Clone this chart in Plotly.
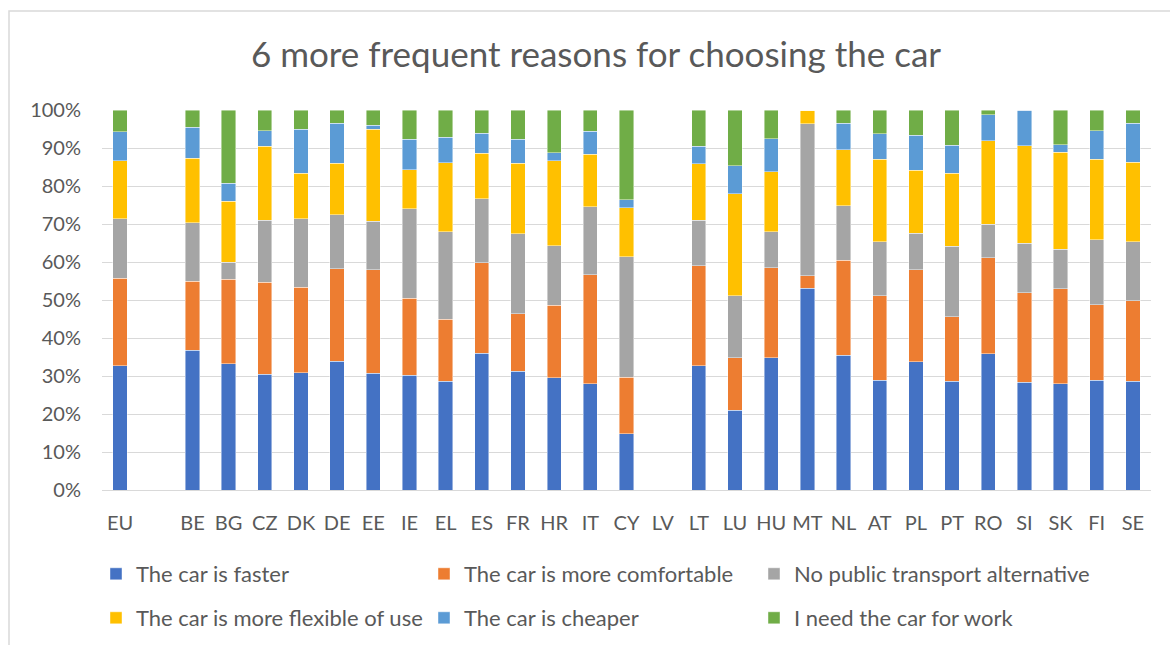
import plotly.graph_objects as go

# Country codes; " " is an empty spacer column after the EU average
countries = ["EU", " ", "BE", "BG", "CZ", "DK", "DE", "EE", "IE", "EL", "ES", "FR",
             "HR", "IT", "CY", "LV", "LT", "LU", "HU", "MT", "NL", "AT", "PL", "PT",
             "RO", "SI", "SK", "FI", "SE"]

# Share of respondents (%) per reason, in the order of `countries`
faster = [32.7, None, 36.8, 33.2, 30.5, 30.8, 33.9, 30.7, 30.2, 28.6, 36.0, 31.3,
          29.5, 27.9, 14.8, None, 32.7, 21.0, 34.8, 53.1, 35.5, 28.9, 33.7, 28.6,
          35.8, 28.4, 27.9, 28.9, 28.6]
comfortable = [23.0, None, 18.2, 22.2, 24.2, 22.5, 24.3, 27.2, 20.3, 16.3, 23.8, 15.1,
               19.1, 28.8, 14.9, None, 26.3, 13.8, 23.7, 3.3, 25.0, 22.2, 24.2, 17.0,
               25.3, 23.5, 25.0, 19.9, 21.2]
no_public = [15.7, None, 15.3, 4.6, 16.3, 18.1, 14.2, 12.8, 23.5, 23.0, 16.9, 21.1,
             15.7, 17.8, 31.7, None, 12.0, 16.3, 9.4, 40.0, 14.3, 14.2, 9.7, 18.6,
             8.9, 13.1, 10.5, 17.1, 15.5]
flexible = [15.2, None, 17.0, 16.0, 19.5, 11.9, 13.6, 24.3, 10.3, 18.2, 11.9, 18.5,
            22.3, 13.9, 12.9, None, 14.8, 26.8, 15.8, 3.6, 14.8, 21.8, 16.6, 19.1,
            21.9, 25.6, 25.5, 21.2, 21.0]
cheaper = [7.7, None, 8.1, 4.7, 4.1, 11.6, 10.5, 1.0, 8.0, 6.7, 5.3, 6.3,
           2.2, 6.0, 2.1, None, 4.7, 7.4, 8.8, 0.0, 6.9, 6.7, 9.1, 7.4,
           6.8, 9.4, 2.0, 7.4, 10.2]
for_work = [5.7, None, 4.6, 19.3, 5.4, 5.1, 3.5, 4.0, 7.7, 7.2, 6.1, 7.7,
            11.2, 5.6, 23.6, None, 9.5, 14.7, 7.5, 0.0, 3.5, 6.2, 6.7, 9.3,
            1.3, 0.0, 9.1, 5.5, 3.5]

series_names = ["The car is faster", "The car is more comfortable",
                "No public transport alternative", "The car is more flexible of use",
                "The car is cheaper", "I need the car for work"]
series_values = [faster, comfortable, no_public, flexible, cheaper, for_work]
series_colors = ["#4472C4", "#ED7D31", "#A5A5A5", "#FFC000", "#5B9BD5", "#70AD47"]

FONT = "Lato, 'Open Sans', sans-serif"
TEXT = "#595959"
GRID = "#D9D9D9"

W, H = 1170, 645
L, R, T, B = 102, 1151, 110, 490

# Legend grid: 3 columns x 2 rows, one legend box per entry
legend_cols_px = [96, 424, 754]
legend_rows_px = [574, 618]

fig = go.Figure()
legend_layout = {}
for i, (name, vals, color) in enumerate(zip(series_names, series_values, series_colors)):
    lg = "legend" if i == 0 else f"legend{i + 1}"
    fig.add_trace(go.Bar(
        x=countries, y=vals, name=name, legend=lg,
        marker=dict(color=color, line=dict(color="rgba(255,255,255,0.55)", width=0.8)),
    ))
    legend_layout[lg] = dict(
        orientation="h", xref="container", yref="container",
        x=legend_cols_px[i % 3] / W, y=1 - legend_rows_px[i // 3] / H,
        xanchor="left", yanchor="middle", itemwidth=30,
        font=dict(family=FONT, size=22, color=TEXT), bgcolor="rgba(0,0,0,0)",
    )

fig.update_layout(
    width=W, height=H,
    margin=dict(l=L, r=W - R, t=T, b=H - B, pad=0),
    paper_bgcolor="white", plot_bgcolor="white",
    barmode="stack", bargap=0.605,
    font=dict(family=FONT, color=TEXT),
    title=dict(text="6 more frequent reasons for choosing the car",
               x=596 / W, xanchor="center", xref="container",
               y=1 - 55 / H, yanchor="middle", yref="container",
               font=dict(family=FONT, size=35, color=TEXT)),
    xaxis=dict(type="category", categoryorder="array", categoryarray=countries,
               showgrid=False, showline=True, linecolor=GRID, linewidth=1.3,
               ticks="", ticklabelstandoff=15,
               tickfont=dict(family=FONT, size=20, color=TEXT)),
    yaxis=dict(range=[0, 100], dtick=10, ticksuffix="%",
               showgrid=True, gridcolor=GRID, gridwidth=1.3,
               zeroline=False, showline=False, ticks="", ticklabelstandoff=20,
               tickfont=dict(family=FONT, size=20, color=TEXT)),
    showlegend=True,
    **legend_layout,
)

# Light frame around the chart area
pw, ph = R - L, B - T
fig.add_shape(type="rect", xref="paper", yref="paper",
              x0=(9 - L) / pw, x1=(W + 20 - L) / pw,
              y0=(B - (H + 20)) / ph, y1=(B - 11) / ph,
              line=dict(color=GRID, width=1.5), fillcolor="rgba(0,0,0,0)", layer="below")

fig.write_html("out.html")
